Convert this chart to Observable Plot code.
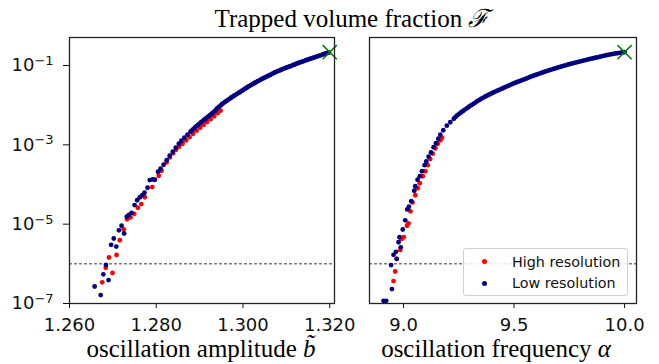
<!DOCTYPE html>
<html>
<head>
<meta charset="utf-8">
<script src="https://cdn.jsdelivr.net/npm/d3@7"></script>
<script src="https://cdn.jsdelivr.net/npm/@observablehq/plot@0.6"></script>
<style>
  html, body { margin: 0; padding: 0; background: #fff; }
  #wrap { position: relative; width: 659px; height: 364px; overflow: hidden; background: #fff; }
  #left, #right { position: absolute; top: 0; }
  #left { left: 0; }
  #right { left: 345px; }
  .serif { position: absolute; font-family: "Liberation Serif", "DejaVu Serif", serif; font-size: 25px; line-height: 25px; white-space: nowrap; color: #000; transform: translateX(-50%); }
  #legend { position: absolute; left: 463px; top: 248px; width: 163px; height: 46px; border: 1px solid #d0d0d0; border-radius: 3px; background: rgba(255,255,255,0.85); font-family: "DejaVu Sans", sans-serif; font-size: 14.3px; color: #111; }
  .row { position: absolute; left: 0; height: 20px; line-height: 20px; white-space: nowrap; }
  .sw { position: absolute; left: 18px; top: 7.5px; width: 5px; height: 5px; border-radius: 50%; }
  .lb { position: absolute; left: 48px; top: 0; }
</style>
</head>
<body>
<div id="wrap">
  <div id="left"></div>
  <div id="right"></div>
  <div class="serif" id="title" style="left:352px; top:6px;">Trapped volume fraction <span style="font-family:'DejaVu Serif',serif;font-style:italic;">ℱ</span></div>
  <div class="serif" id="xl1" style="left:201px; top:336px;">oscillation amplitude <i>b̃</i></div>
  <div class="serif" id="xl2" style="left:496px; top:336px;">oscillation frequency <i>α</i></div>
  <div id="legend"></div>
</div>
<script>
// ---------------- data ----------------
const seriesNames = ["High resolution", "Low resolution"];
const seriesColors = ["#ff0000", "#000080"];

// Left panel: [oscillation amplitude b~, log10 F]
const leftHigh = [[1.26754,-6.465],[1.26837,-6.100],[1.26911,-5.840],[1.26992,-6.231],[1.27084,-5.777],[1.27160,-5.406],[1.27250,-5.129],[1.27327,-4.876],[1.27407,-4.831],[1.27493,-4.738],[1.27576,-4.586],[1.27656,-4.493],[1.27735,-4.322],[1.27908,-4.064],[1.28058,-3.779],[1.28122,-3.653],[1.28238,-3.444],[1.28314,-3.318],[1.28388,-3.212],[1.28457,-3.124],[1.28526,-3.048],[1.28607,-2.972],[1.28688,-2.889],[1.28768,-2.808],[1.28849,-2.720],[1.28930,-2.644],[1.29011,-2.569],[1.29091,-2.498],[1.29172,-2.425],[1.29253,-2.354],[1.29334,-2.279],[1.29414,-2.203],[1.29484,-2.140]];

const leftLow = [[1.2658,-6.571],[1.2672,-6.788],[1.2678,-6.264],[1.2684,-6.029],[1.2690,-6.410],[1.2696,-5.520],[1.2702,-5.361],[1.2708,-5.565],[1.2714,-5.156],[1.2720,-5.040],[1.2726,-5.235],[1.2732,-4.813],[1.2737,-4.768],[1.2743,-4.717],[1.2750,-4.518],[1.2756,-4.397],[1.2762,-4.327],[1.2768,-4.266],[1.2773,-4.208],[1.2780,-4.082],[1.2785,-3.888],[1.2792,-3.873],[1.2797,-3.880],[1.2804,-3.678],[1.2810,-3.603],[1.2817,-3.502],[1.2824,-3.388],[1.2831,-3.275],[1.2838,-3.174],[1.2845,-3.073],[1.2852,-2.972],[1.2858,-2.897],[1.2865,-2.821],[1.2872,-2.745],[1.2879,-2.670],[1.2886,-2.599],[1.2893,-2.528],[1.2900,-2.463],[1.2907,-2.400],[1.2914,-2.337],[1.2921,-2.276],[1.2928,-2.216],[1.2935,-2.150],[1.2941,-2.077],[1.2948,-2.009],[1.2955,-1.946],[1.2962,-1.893],[1.2969,-1.840],[1.2976,-1.787],[1.2983,-1.739],[1.2990,-1.691],[1.2997,-1.641],[1.3004,-1.590],[1.3011,-1.542],[1.3018,-1.497],[1.3025,-1.454],[1.3031,-1.414],[1.3038,-1.373],[1.3045,-1.333],[1.3052,-1.295],[1.3059,-1.257],[1.3066,-1.217],[1.3073,-1.176],[1.3080,-1.144],[1.3087,-1.113],[1.3094,-1.081],[1.3101,-1.050],[1.3108,-1.023],[1.3115,-0.992],[1.3121,-0.965],[1.3128,-0.934],[1.3135,-0.909],[1.3142,-0.881],[1.3149,-0.854],[1.3156,-0.828],[1.3163,-0.803],[1.3170,-0.775],[1.3177,-0.750],[1.3184,-0.722],[1.3191,-0.697],[1.3198,-0.672]];

// additional low-resolution samples in the dense upper part of the left curve
const leftLowUpper = [[1.28825,-2.634],[1.28895,-2.563],[1.28965,-2.495],[1.29035,-2.431],[1.29105,-2.368],[1.29175,-2.306],[1.29245,-2.246],[1.29315,-2.183],[1.29380,-2.113],[1.29445,-2.043],[1.29515,-1.977],[1.29585,-1.919],[1.29655,-1.866],[1.29725,-1.813],[1.29795,-1.763],[1.29865,-1.715],[1.29935,-1.666],[1.30005,-1.615],[1.30075,-1.566],[1.30145,-1.519],[1.30215,-1.475],[1.30280,-1.434],[1.30345,-1.393],[1.30415,-1.353],[1.30485,-1.314],[1.30555,-1.276],[1.30625,-1.237],[1.30695,-1.196],[1.30765,-1.160],[1.30835,-1.128],[1.30905,-1.097],[1.30975,-1.065],[1.31045,-1.036],[1.31115,-1.007],[1.31180,-0.978],[1.31245,-0.949],[1.31315,-0.921],[1.31385,-0.895],[1.31455,-0.867],[1.31525,-0.841],[1.31595,-0.815],[1.31665,-0.789],[1.31735,-0.762],[1.31805,-0.736],[1.31875,-0.709],[1.31945,-0.684]];

// Right panel: [oscillation frequency alpha, log10 F]
const rightHigh = [[8.9547,-6.435],[8.9624,-6.193],[8.9692,-5.873],[8.9850,-5.653],[8.9909,-5.376],[9.0009,-5.330],[9.0154,-5.040],[9.0227,-4.982],[9.0313,-4.675],[9.0408,-4.453],[9.0530,-4.271],[9.0643,-4.095],[9.0734,-3.968],[9.0870,-3.792],[9.0983,-3.666],[9.1097,-3.514],[9.1210,-3.358],[9.1323,-3.224],[9.1436,-3.086],[9.1550,-2.972],[9.1663,-2.884],[9.1740,-2.821]];

const rightLow = [[8.9094,-6.932],[8.9216,-6.932],[8.9474,-6.637],[8.9438,-6.032],[8.9547,-5.772],[8.9656,-5.696],[8.9692,-5.873],[8.9773,-5.456],[8.9873,-5.583],[8.9819,-5.330],[8.9964,-5.134],[9.0077,-4.902],[9.0168,-4.629],[9.0245,-4.561],[9.0349,-4.422],[9.0485,-4.158],[9.0530,-4.044],[9.0634,-3.880],[9.0734,-3.792],[9.0834,-3.666],[9.0952,-3.514],[9.1029,-3.419],[9.1133,-3.300],[9.1241,-3.192],[9.1359,-3.060],[9.1468,-2.960],[9.1572,-2.846],[9.1663,-2.745],[9.1799,-2.632],[9.1957,-2.518],[9.2116,-2.430],[9.2275,-2.342],[9.2354,-2.297],[9.2433,-2.253],[9.2524,-2.215],[9.2614,-2.178],[9.2705,-2.141],[9.2796,-2.105],[9.2886,-2.069],[9.2977,-2.034],[9.3068,-2.001],[9.3158,-1.968],[9.3249,-1.934],[9.3339,-1.900],[9.3430,-1.868],[9.3521,-1.837],[9.3611,-1.809],[9.3702,-1.782],[9.3793,-1.756],[9.3883,-1.731],[9.3974,-1.706],[9.4064,-1.681],[9.4155,-1.658],[9.4246,-1.635],[9.4336,-1.612],[9.4427,-1.590],[9.4518,-1.567],[9.4608,-1.545],[9.4699,-1.522],[9.4789,-1.499],[9.4880,-1.476],[9.4971,-1.454],[9.5061,-1.434],[9.5152,-1.414],[9.5243,-1.395],[9.5333,-1.376],[9.5424,-1.357],[9.5514,-1.338],[9.5605,-1.316],[9.5695,-1.295],[9.5786,-1.276],[9.5877,-1.257],[9.5967,-1.239],[9.6058,-1.222],[9.6149,-1.204],[9.6239,-1.187],[9.6330,-1.169],[9.6420,-1.151],[9.6511,-1.134],[9.6602,-1.118],[9.6692,-1.102],[9.6783,-1.086],[9.6873,-1.070],[9.6964,-1.055],[9.7055,-1.040],[9.7145,-1.025],[9.7236,-1.010],[9.7327,-0.995],[9.7417,-0.981],[9.7508,-0.967],[9.7598,-0.953],[9.7689,-0.939],[9.7780,-0.926],[9.7870,-0.914],[9.7961,-0.901],[9.8052,-0.889],[9.8142,-0.876],[9.8233,-0.864],[9.8323,-0.851],[9.8414,-0.838],[9.8505,-0.827],[9.8595,-0.816],[9.8686,-0.804],[9.8777,-0.793],[9.8867,-0.780],[9.8958,-0.768],[9.9048,-0.756],[9.9139,-0.745],[9.9230,-0.734],[9.9320,-0.724],[9.9411,-0.714],[9.9502,-0.705],[9.9592,-0.696],[9.9683,-0.688],[9.9773,-0.680],[9.9864,-0.673],[9.9932,-0.668],[10.0,-0.665]];

// Reference (green cross) points and threshold line
const leftRefPoint = [[1.320, -0.665]];
const rightRefPoint = [[10.0, -0.665]];
const threshold = [1e-6];

// Axes ticks and labels
const yTicks = [1e-7, 1e-5, 1e-3, 1e-1];
const yTickBase = ["10", "10", "10", "10"];
const yTickExp = ["\u22127", "\u22125", "\u22123", "\u22121"];
const xTicksLeft = [1.26, 1.28, 1.30, 1.32];
const xTickLabelsLeft = ["1.260", "1.280", "1.300", "1.320"];
const xTicksRight = [9.0, 9.5, 10.0];
const xTickLabelsRight = ["9.0", "9.5", "10.0"];

// ---------------- build tables ----------------
const toRows = (pairs, s) => pairs.map(([x, lf]) => ({x, F: Math.pow(10, lf), s}));
const yDomain = [1e-7, Math.pow(10, -0.294)];
const common = {
  height: 364,
  marginTop: 37,
  marginBottom: 61,
  style: {background: "transparent", fontFamily: "DejaVu Sans, sans-serif", fontSize: "18px", color: "#111", overflow: "visible"}
};
const idx = (ticks, d) => ticks.findIndex(t => Math.abs(t - d) < 1e-9 * Math.max(1, Math.abs(t)));
const fmt = (ticks, labels) => d => { const i = idx(ticks, d); return i >= 0 ? labels[i] : ""; };

function marks(high, low, ref) {
  return [
    Plot.ruleY(threshold, {stroke: "#222", strokeWidth: 0.9, strokeDasharray: "3,2"}),
    Plot.dot(toRows(high, 0), {x: "x", y: "F", r: 2.4, fill: seriesColors[0], stroke: null}),
    Plot.dot(toRows(low, 1), {x: "x", y: "F", r: 2.4, fill: seriesColors[1], stroke: null}),
    Plot.dot(toRows(ref, 2), {x: "x", y: "F", symbol: "times", r: 6.5, stroke: "#008000", strokeWidth: 1.5, fill: "none"}),
    Plot.frame({stroke: "#222", strokeWidth: 1.3})
  ];
}

const left = Plot.plot({
  ...common,
  width: 345,
  marginLeft: 69,
  marginRight: 11,
  x: {domain: [1.260, 1.3211], ticks: xTicksLeft, tickFormat: fmt(xTicksLeft, xTickLabelsLeft), tickSize: 5, tickPadding: 10, label: null},
  y: {type: "log", domain: yDomain, ticks: yTicks, tickFormat: d => { const i = idx(yTicks, d); return i >= 0 ? yTickBase[i] + "^" + yTickExp[i] : ""; }, tickSize: 6, tickPadding: 10, label: null},
  marks: marks(leftHigh, [...leftLow, ...leftLowUpper], leftRefPoint)
});
document.getElementById("left").appendChild(left);

// render exponents as real superscripts
d3.select(left).selectAll('[aria-label="y-axis tick label"] text').each(function () {
  const t = d3.select(this);
  const s = t.text();
  if (!s.includes("^")) return;
  const [base, exp] = s.split("^");
  t.text(null);
  t.append("tspan").text(base);
  t.append("tspan").attr("dy", "-0.48em").attr("font-size", "72%").text(exp);
});

const right = Plot.plot({
  ...common,
  width: 314,
  marginLeft: 24,
  marginRight: 23,
  x: {domain: [8.846, 10.054], ticks: xTicksRight, tickFormat: fmt(xTicksRight, xTickLabelsRight), tickSize: 5, tickPadding: 10, label: null},
  y: {type: "log", domain: yDomain, axis: null},
  marks: marks(rightHigh, rightLow, rightRefPoint)
});
document.getElementById("right").appendChild(right);

// Legend
const legend = document.getElementById("legend");
seriesNames.forEach((name, i) => {
  const row = document.createElement("div");
  row.className = "row";
  row.style.top = (2.5 + i * 21.5) + "px";
  row.style.width = "100%";
  const sw = document.createElement("span");
  sw.className = "sw";
  sw.style.background = seriesColors[i];
  const lb = document.createElement("span");
  lb.className = "lb";
  lb.textContent = name;
  row.appendChild(sw);
  row.appendChild(lb);
  legend.appendChild(row);
});
</script>
</body>
</html>
